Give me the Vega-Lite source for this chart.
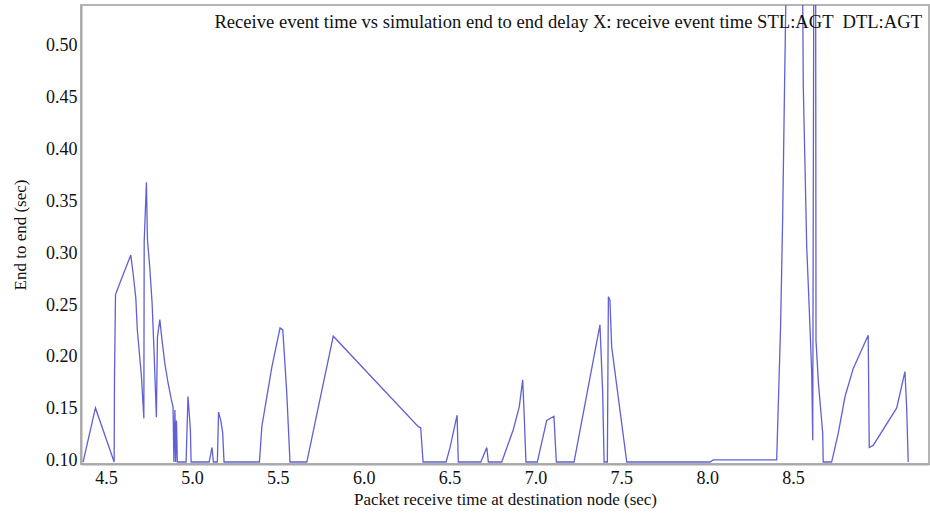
{
  "$schema": "https://vega.github.io/schema/vega-lite/v6.json",
  "autosize": {"type": "none"},
  "width": 848,
  "height": 459,
  "padding": {"left": 81, "top": 5, "right": 1, "bottom": 50},
  "background": "white",
  "config": {
    "view": {"stroke": "#b4b4b4", "strokeWidth": 2},
    "font": "Liberation Serif"
  },
  "title": {
    "text": "Receive event time vs simulation end to end delay X: receive event time STL:AGT \u00a0DTL:AGT",
    "anchor": "end",
    "frame": "group",
    "orient": "top",
    "baseline": "alphabetic",
    "offset": -42,
    "dx": -7,
    "font": "Liberation Serif",
    "fontSize": 18.6,
    "fontWeight": "normal",
    "color": "#111111"
  },
  "data": {
    "values": [
      {"t": 4.366, "d": 0.099}, {"t": 4.438, "d": 0.151}, {"t": 4.547, "d": 0.099},
      {"t": 4.549, "d": 0.180}, {"t": 4.555, "d": 0.260}, {"t": 4.580, "d": 0.271},
      {"t": 4.644, "d": 0.298}, {"t": 4.657, "d": 0.281}, {"t": 4.673, "d": 0.257},
      {"t": 4.682, "d": 0.226}, {"t": 4.696, "d": 0.200}, {"t": 4.706, "d": 0.181},
      {"t": 4.720, "d": 0.141}, {"t": 4.722, "d": 0.311}, {"t": 4.735, "d": 0.368},
      {"t": 4.741, "d": 0.313}, {"t": 4.754, "d": 0.287}, {"t": 4.768, "d": 0.252},
      {"t": 4.779, "d": 0.207}, {"t": 4.793, "d": 0.142}, {"t": 4.799, "d": 0.219},
      {"t": 4.813, "d": 0.236}, {"t": 4.826, "d": 0.216}, {"t": 4.842, "d": 0.194},
      {"t": 4.861, "d": 0.175}, {"t": 4.880, "d": 0.159}, {"t": 4.890, "d": 0.152},
      {"t": 4.895, "d": 0.099}, {"t": 4.901, "d": 0.149}, {"t": 4.905, "d": 0.099},
      {"t": 4.910, "d": 0.139}, {"t": 4.915, "d": 0.099}, {"t": 4.966, "d": 0.099},
      {"t": 4.977, "d": 0.162}, {"t": 4.991, "d": 0.130}, {"t": 4.995, "d": 0.099},
      {"t": 5.100, "d": 0.099}, {"t": 5.117, "d": 0.113}, {"t": 5.125, "d": 0.099},
      {"t": 5.148, "d": 0.099}, {"t": 5.155, "d": 0.147}, {"t": 5.168, "d": 0.139},
      {"t": 5.179, "d": 0.127}, {"t": 5.187, "d": 0.099}, {"t": 5.393, "d": 0.099},
      {"t": 5.407, "d": 0.133}, {"t": 5.465, "d": 0.190}, {"t": 5.513, "d": 0.228},
      {"t": 5.529, "d": 0.226}, {"t": 5.552, "d": 0.166}, {"t": 5.571, "d": 0.099},
      {"t": 5.669, "d": 0.099}, {"t": 5.717, "d": 0.137}, {"t": 5.823, "d": 0.220},
      {"t": 6.318, "d": 0.133}, {"t": 6.332, "d": 0.132}, {"t": 6.346, "d": 0.099},
      {"t": 6.480, "d": 0.099}, {"t": 6.503, "d": 0.113}, {"t": 6.544, "d": 0.144},
      {"t": 6.551, "d": 0.099}, {"t": 6.682, "d": 0.099}, {"t": 6.717, "d": 0.113},
      {"t": 6.726, "d": 0.099}, {"t": 6.804, "d": 0.099}, {"t": 6.871, "d": 0.130},
      {"t": 6.906, "d": 0.152}, {"t": 6.926, "d": 0.178}, {"t": 6.934, "d": 0.147},
      {"t": 6.945, "d": 0.099}, {"t": 7.011, "d": 0.099}, {"t": 7.066, "d": 0.139},
      {"t": 7.108, "d": 0.143}, {"t": 7.122, "d": 0.099}, {"t": 7.225, "d": 0.099},
      {"t": 7.376, "d": 0.231}, {"t": 7.392, "d": 0.165}, {"t": 7.400, "d": 0.099},
      {"t": 7.419, "d": 0.099}, {"t": 7.425, "d": 0.258}, {"t": 7.434, "d": 0.255},
      {"t": 7.444, "d": 0.210}, {"t": 7.532, "d": 0.099}, {"t": 8.017, "d": 0.099},
      {"t": 8.036, "d": 0.101}, {"t": 8.405, "d": 0.101}, {"t": 8.428, "d": 0.231},
      {"t": 8.440, "d": 0.335}, {"t": 8.451, "d": 0.463}, {"t": 8.462, "d": 0.580},
      {"t": 8.510, "d": 0.650}, {"t": 8.556, "d": 0.560}, {"t": 8.560, "d": 0.460},
      {"t": 8.580, "d": 0.306}, {"t": 8.595, "d": 0.245}, {"t": 8.609, "d": 0.185},
      {"t": 8.615, "d": 0.120}, {"t": 8.621, "d": 0.560}, {"t": 8.628, "d": 0.620},
      {"t": 8.632, "d": 0.560}, {"t": 8.634, "d": 0.216}, {"t": 8.648, "d": 0.175},
      {"t": 8.673, "d": 0.127}, {"t": 8.676, "d": 0.099}, {"t": 8.725, "d": 0.099},
      {"t": 8.764, "d": 0.127}, {"t": 8.803, "d": 0.162}, {"t": 8.851, "d": 0.189},
      {"t": 8.938, "d": 0.221}, {"t": 8.944, "d": 0.113}, {"t": 8.967, "d": 0.115},
      {"t": 9.104, "d": 0.151}, {"t": 9.152, "d": 0.186}, {"t": 9.162, "d": 0.151},
      {"t": 9.171, "d": 0.099}
    ]
  },
  "mark": {"type": "line", "color": "#6060d4", "strokeWidth": 1.3, "clip": true},
  "encoding": {
    "x": {
      "field": "t",
      "type": "quantitative",
      "sort": null,
      "scale": {"domain": [4.354, 9.292], "nice": false, "zero": false},
      "axis": {
        "title": "Packet receive time at destination node (sec)",
        "values": [4.5, 5, 5.5, 6, 6.5, 7, 7.5, 8, 8.5],
        "format": ".1f",
        "grid": false,
        "ticks": false,
        "domainColor": "#a8a8a8",
        "domainWidth": 2,
        "labelFont": "Liberation Serif",
        "labelFontSize": 18,
        "labelColor": "#111111",
        "labelPadding": 5,
        "titleFont": "Liberation Serif",
        "titleFontSize": 17,
        "titleFontWeight": "normal",
        "titleColor": "#111111",
        "titlePadding": 4
      }
    },
    "y": {
      "field": "d",
      "type": "quantitative",
      "scale": {"domain": [0.0971, 0.5385], "nice": false, "zero": false},
      "axis": {
        "title": "End to end (sec)",
        "values": [0.1, 0.15, 0.2, 0.25, 0.3, 0.35, 0.4, 0.45, 0.5],
        "format": ".2f",
        "grid": false,
        "ticks": false,
        "domainColor": "#a8a8a8",
        "domainWidth": 2,
        "labelFont": "Liberation Serif",
        "labelFontSize": 18,
        "labelColor": "#111111",
        "labelPadding": 4,
        "titleFont": "Liberation Serif",
        "titleFontSize": 17,
        "titleFontWeight": "normal",
        "titleColor": "#111111",
        "titlePadding": 16
      }
    }
  }
}
